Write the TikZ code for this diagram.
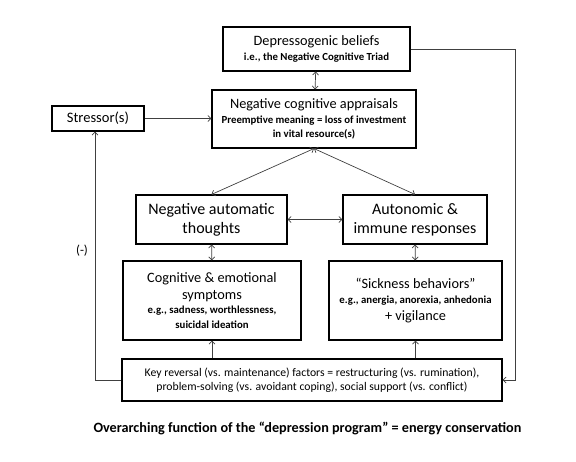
\documentclass[tikz,border=0pt]{standalone}
\usepackage{fontspec}
\setmainfont{Carlito}
\usetikzlibrary{arrows.meta}
\newcommand{\sub}[1]{{\fontsize{10.8}{12.5}\selectfont\bfseries #1}}

\begin{document}
\begin{tikzpicture}[
      x=1pt, y=-1pt,
      box/.style={draw, line width=1.1pt, align=center, inner sep=1pt,
        font=\fontsize{14.3}{16.5}\selectfont},
      bigbox/.style={box, font=\fontsize{16}{19}\selectfont},
      link/.style={draw=black!75, line width=0.7pt},
      >={Straight Barb[length=3pt,width=6pt]}
    ]
      \useasboundingbox (0,0) rectangle (576,461);
      \node[box, minimum width=187pt, minimum height=44pt] (beliefs) at (316.5,49)
        {Depressogenic beliefs\\[-1pt] \sub{i.e., the Negative Cognitive Triad}};
      \node[box, minimum width=204pt, minimum height=58pt] (appraisals) at (314,119)
        {Negative cognitive appraisals\\[-2pt] \sub{Preemptive meaning = loss of investment}\\[-2pt] \sub{in vital resource(s)}};
      \node[box, font=\fontsize{14.5}{16}\selectfont, minimum width=92pt, minimum height=25pt] (stressor) at (98,118.5)
        {Stressor(s)};
      \node[bigbox, minimum width=151pt, minimum height=49pt] (thoughts) at (211.5,219.5)
        {Negative automatic\\ thoughts};
      \node[bigbox, minimum width=144pt, minimum height=49pt] (immune) at (415,219.5)
        {Autonomic \&\\ immune responses};
      \node[box, minimum width=178pt, minimum height=79pt] (symptoms) at (212,300.5)
        {Cognitive \& emotional\\ symptoms\\[-2pt] \sub{e.g., sadness, worthlessness,}\\[-2pt] \sub{suicidal ideation}};
      \node[box, minimum width=173pt, minimum height=79pt] (sickness) at (415.5,300.5)
        {``Sickness behaviors''\\[-1pt] \sub{e.g., anergia, anorexia, anhedonia}\\[0pt] + vigilance};
      \node[box, font=\fontsize{11.7}{14.5}\selectfont, minimum width=380pt, minimum height=42pt] (reversal) at (312,380)
        {Key reversal (vs. maintenance) factors = restructuring (vs. rumination),\\ problem-solving (vs. avoidant coping), social support (vs. conflict)};
      \node[font=\fontsize{14.2}{16}\selectfont\bfseries] (function) at (307.5,428)
        {Overarching function of the ``depression program'' = energy conservation};
      \node[font=\fontsize{13}{15}\selectfont] (minus) at (82,251) {(-)};
      \coordinate (corner) at (515,49);
      % connectors
      \draw[link, <->] (beliefs) -- (appraisals);
      \draw[link, ->] (stressor) -- (stressor -| appraisals.west);
      \draw[link, <->] (thoughts.north) -- (appraisals.south);
      \draw[link, <->] (immune.north) -- (appraisals.south);
      \draw[link, <->] (thoughts) -- (immune);
      \draw[link, <->] (thoughts) -- (symptoms);
      \draw[link, <->] (immune) -- (sickness);
      \draw[link, ->] (reversal.north -| symptoms) -- (symptoms.south);
      \draw[link, ->] (reversal.north -| sickness) -- (sickness.south);
      \draw[link, ->] (reversal.west) -| ([xshift=-3pt]stressor.south);
      \draw[link, ->] (beliefs.east) -- (corner) |- (reversal.east);
\end{tikzpicture}
\end{document}
